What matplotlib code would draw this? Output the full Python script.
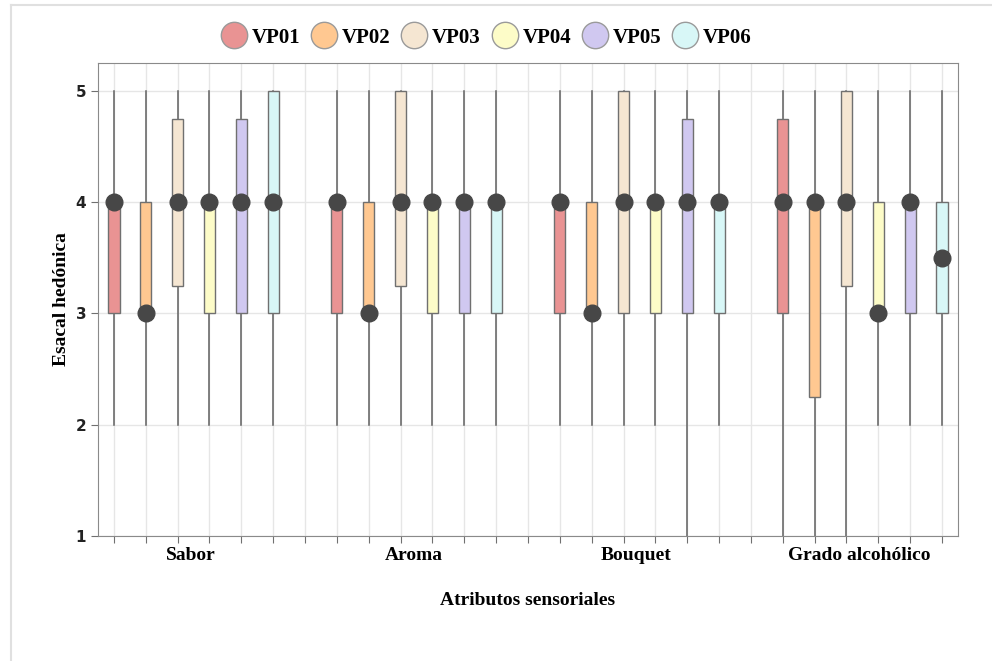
import numpy as np
import matplotlib.pyplot as plt
from matplotlib.lines import Line2D

atributos = ['Sabor', 'Aroma', 'Bouquet', 'Grado alcohólico']
series = ['VP01', 'VP02', 'VP03', 'VP04', 'VP05', 'VP06']
colores = ['#e99393', '#ffc891', '#f5e6d2', '#fdfcc8', '#d0c8f0', '#d8f7f7']

# per attribute, per VP: whisker low, q1, median, q3, whisker high
sabor = [[2, 3, 4, 4, 5], [2, 3, 3, 4, 5], [2, 3.25, 4, 4.75, 5],
         [2, 3, 4, 4, 5], [2, 3, 4, 4.75, 5], [2, 3, 4, 5, 5]]
aroma = [[2, 3, 4, 4, 5], [2, 3, 3, 4, 5], [2, 3.25, 4, 5, 5],
         [2, 3, 4, 4, 5], [2, 3, 4, 4, 5], [2, 3, 4, 4, 5]]
bouquet = [[2, 3, 4, 4, 5], [2, 3, 3, 4, 5], [2, 3, 4, 5, 5],
           [2, 3, 4, 4, 5], [1, 3, 4, 4.75, 5], [2, 3, 4, 4, 5]]
grado = [[1, 3, 4, 4.75, 5], [1, 2.25, 4, 4, 5], [1, 3.25, 4, 5, 5],
         [2, 3, 3, 4, 5], [2, 3, 4, 4, 5], [2, 3, 3.5, 4, 5]]
datos = [sabor, aroma, bouquet, grado]

serif = 'Liberation Serif'

fig = plt.figure(figsize=(9.92, 6.61), dpi=100)
ax = fig.add_axes([0.0988, 0.189, 0.8669, 0.7157])

ancho = 0.35
for g, grupo in enumerate(datos):
    for i, (lo, q1, med, q3, hi) in enumerate(grupo):
        x = g * 7 + i
        ax.plot([x, x], [lo, hi], color='#606060', lw=1.1, zorder=2)
        ax.bar(x, q3 - q1, bottom=q1, width=ancho, color=colores[i],
               edgecolor='#707070', linewidth=1.0, zorder=3)
        ax.plot(x, med, 'o', color='#474747', ms=12, zorder=4)

ax.set_xlim(-0.5, 26.5)
ax.set_ylim(1, 5.25)
ax.set_yticks([1, 2, 3, 4, 5])
ax.set_xticks(np.arange(0, 27))
ax.set_xticklabels([])
ax.set_xticks([g * 7 + 2.4 for g in range(4)], minor=True)
ax.set_xticklabels(atributos, minor=True, fontfamily=serif,
                   fontweight='bold', fontsize=14)
ax.tick_params(axis='x', which='minor', length=0, pad=8)
ax.tick_params(axis='x', which='major', length=5, color='#707070')
ax.tick_params(axis='y', length=5, color='#707070', labelsize=11)
for lab in ax.get_yticklabels():
    lab.set_fontweight('bold')
    lab.set_color('#222222')
ax.grid(True, which='major', color='#e6e6e6', lw=1)
ax.set_axisbelow(True)
for s in ax.spines.values():
    s.set_color('#8a8a8a')

ax.set_xlabel('Atributos sensoriales', fontfamily=serif, fontweight='bold',
              fontsize=14, labelpad=20)
ax.set_ylabel('Esacal hedónica', fontfamily=serif, fontweight='bold',
              fontsize=14, labelpad=4)

handles = [Line2D([], [], marker='o', ls='', ms=19, markerfacecolor=c,
                  markeredgecolor='#9a9a9a', markeredgewidth=1) for c in colores]
fig.legend(handles, series, loc='center', bbox_to_anchor=(0.49, 0.943),
           ncol=6, frameon=False, handletextpad=0.2, columnspacing=0.5,
           handlelength=1.3, prop={'family': serif, 'weight': 'bold', 'size': 15})

# light frame of the page container
fig.add_artist(Line2D([0.0111, 0.0111], [0, 0.9924], color='#e0e0e0', lw=1.5,
                      transform=fig.transFigure))
fig.add_artist(Line2D([0.0111, 1], [0.9924, 0.9924], color='#e0e0e0', lw=1.5,
                      transform=fig.transFigure))

fig.savefig('out.png', dpi=100)
